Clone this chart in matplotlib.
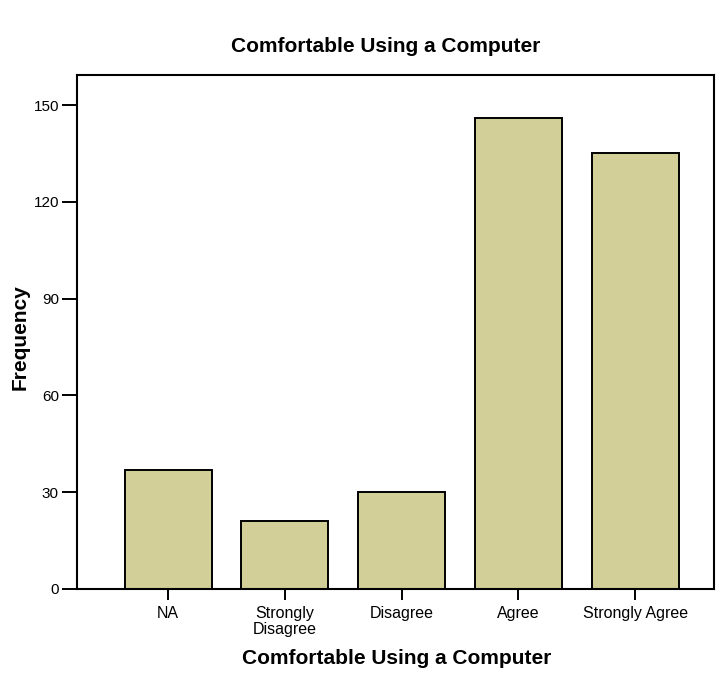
import matplotlib.pyplot as plt
import matplotlib as mpl

mpl.rcParams['font.family'] = ['Liberation Sans', 'DejaVu Sans']

categories = ["NA", "Strongly\nDisagree", "Disagree", "Agree", "Strongly Agree"]
counts = [37, 21, 30, 146, 135]
yticks = [0, 30, 60, 90, 120, 150]

fig = plt.figure(figsize=(7.28, 6.75), dpi=100)
ax = fig.add_axes([77 / 728, 1 - 589 / 675, (714 - 77) / 728, (589 - 75) / 675])

x = list(range(len(categories)))
ax.bar(x, counts, width=0.745, color='#D3CF98', edgecolor='black', linewidth=1.4)

ax.set_xlim(-0.78, 4.675)
ax.set_ylim(0, 159.3)
ax.set_xticks(x)
ax.set_xticklabels(categories, fontsize=11.5, linespacing=1.15)
ax.set_yticks(yticks)
ax.set_yticklabels([str(v) for v in yticks], fontsize=11)
ax.tick_params(axis='x', direction='out', length=8, width=1.4, pad=4)
ax.tick_params(axis='y', direction='out', length=11, width=1.4, pad=2)
for s in ax.spines.values():
    s.set_linewidth(1.5)

# labels placed in figure pixels to match the reference layout
fig.text(397 / 728, 1 - 659 / 675, "Comfortable Using a Computer", fontsize=15,
         fontweight='bold', ha='center', va='center')
fig.text(20 / 728, 1 - 337 / 675, "Frequency", fontsize=15, fontweight='bold',
         ha='center', va='center', rotation=90)
fig.text(386 / 728, 1 - 47 / 675, "Comfortable Using a Computer", fontsize=15,
         fontweight='bold', ha='center', va='center')

fig.savefig("out.png", dpi=100)
